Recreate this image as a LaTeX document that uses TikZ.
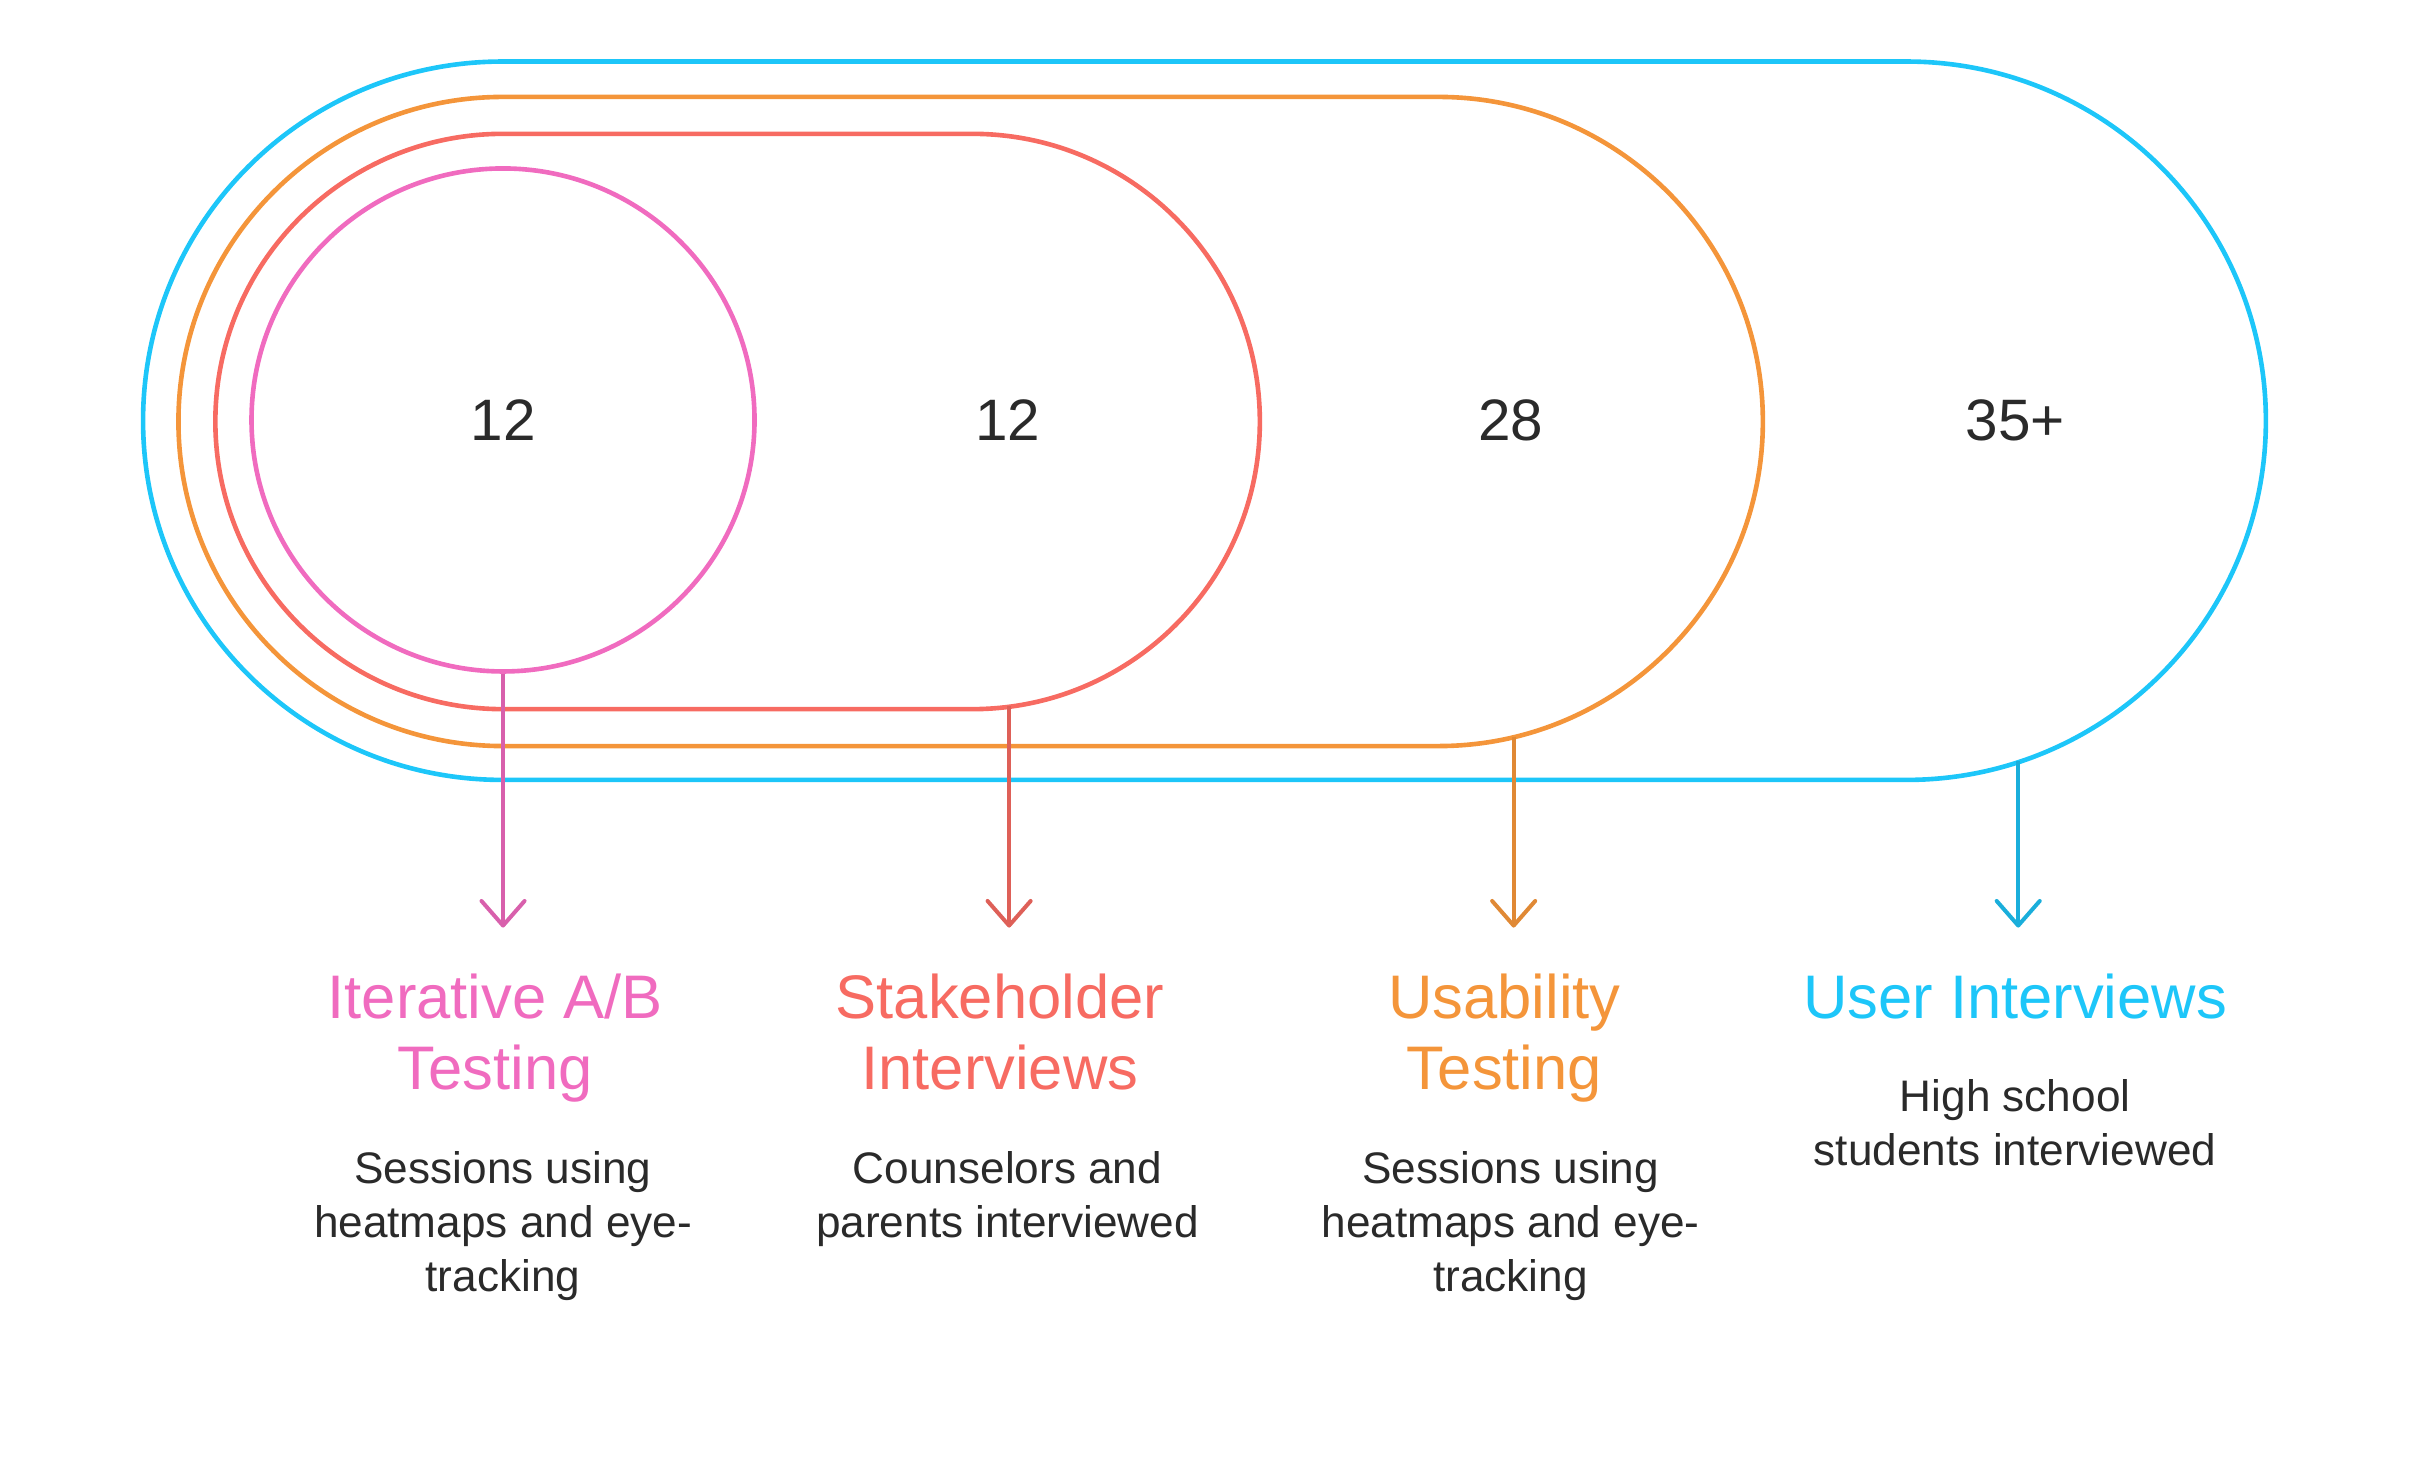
\documentclass[tikz,border=0pt]{standalone}
\usepackage{fontspec}
\setmainfont{Liberation Sans}
\usetikzlibrary{arrows.meta}
\definecolor{userblue}{HTML}{1DC6F9}
\definecolor{usaorange}{HTML}{F4953A}
\definecolor{stakered}{HTML}{F76B62}
\definecolor{abpink}{HTML}{F06BBF}
\definecolor{ink}{HTML}{2A2A2A}
\tikzset{
  ring/.style={line width=3pt},
  pointer/.style={line width=2.6pt, -{Straight Barb[length=16pt,width=28pt,round]}},
  count/.style={font=\fontsize{38}{42}\selectfont, text=ink},
  heading/.style={align=center, font=\fontsize{40}{46}\selectfont},
  blurb/.style={align=center, font=\fontsize{28.7}{35}\selectfont, text=ink},
}
\begin{document}
\begin{tikzpicture}[x=1pt, y=-1pt]
      \useasboundingbox (0,0) rectangle (1568,953);
      % outer rings
      \draw[ring, draw=userblue, rounded corners=233.5pt] (93,40) rectangle (1473,507);
      \draw[ring, draw=usaorange, rounded corners=211pt] (116,63) rectangle (1146,485);
      \draw[ring, draw=stakered, rounded corners=187pt] (140,87) rectangle (819,461);
      \node[ring, draw=abpink, circle, minimum size=327pt, count] (ab) at (327,273) {12};
      %
      \node[count] (shcount) at (655,273) {12};
      \node[count] (uscount) at (982,273) {28};
      \node[count] (uicount) at (1310,273) {35+};
      %
      \coordinate (shfoot) at (656,459);      % feet on the ring bottoms
      \coordinate (usfoot) at (984,479);
      \coordinate (uifoot) at (1312,495);
      %
      \coordinate (abtip) at (327,603);
      \coordinate (shtip) at (656,603);
      \coordinate (ustip) at (984,603);
      \coordinate (uitip) at (1312,603);
      %
      \draw[pointer, draw=abpink!90!black] (ab.south) -- (abtip);
      \draw[pointer, draw=stakered!90!black] (shfoot) -- (shtip);
      \draw[pointer, draw=usaorange!92!black] (usfoot) -- (ustip);
      \draw[pointer, draw=userblue!88!black] (uifoot) -- (uitip);
      %
      \node[heading, text=abpink] (abtitle) at (322,675) {Iterative A/B\\Testing};
      \node[heading, text=stakered] (shtitle) at (650,671) {Stakeholder\\Interviews};
      \node[heading, text=usaorange] (ustitle) at (978,675) {Usability\\Testing};
      \node[heading, text=userblue] (uititle) at (1310,648) {User Interviews};
      %
      \node[blurb] (abtext) at (327,797) {Sessions using\\heatmaps and eye-\\tracking};
      \node[blurb] (shtext) at (655,779.5) {Counselors and\\parents interviewed};
      \node[blurb] (ustext) at (982,797) {Sessions using\\heatmaps and eye-\\tracking};
      \node[blurb] (uitext) at (1310,730) {High school\\students interviewed};
      %
    \end{tikzpicture}
\end{document}
